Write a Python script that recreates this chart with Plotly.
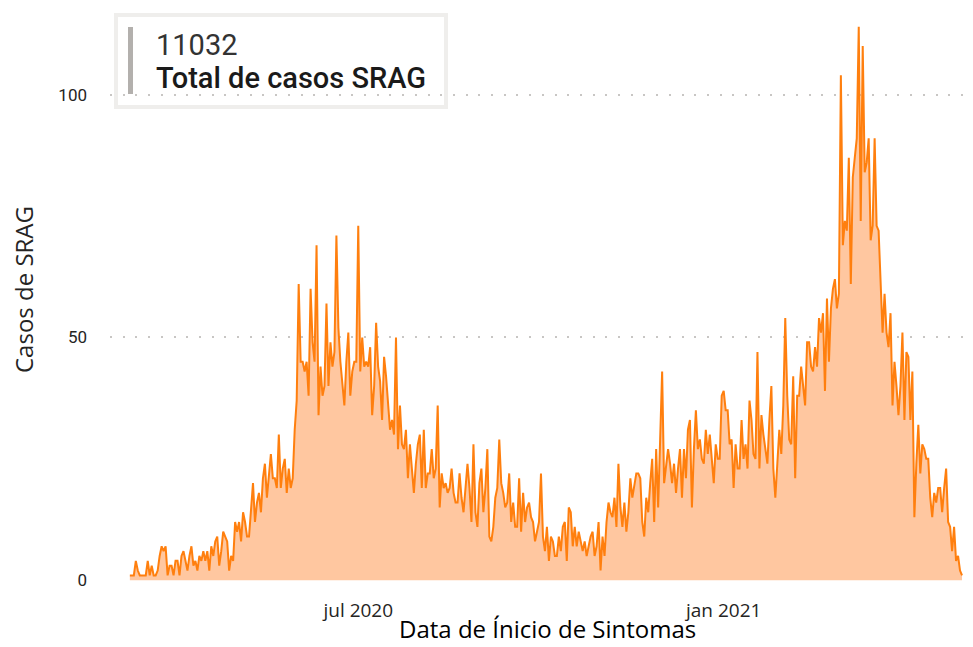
import pandas as pd
import plotly.graph_objects as go

start_date = "2020-03-08"

# daily SRAG cases, by period
cases_seg_a = [1, 1, 1, 4, 2, 1, 1, 1, 1, 4, 1,
               3, 1, 1, 2, 5, 7, 6, 7, 1, 3,
               3, 1, 4, 4, 1, 5, 6, 4, 2, 5,
               7, 3, 4, 2, 5, 4, 6, 4, 6, 2,
               7, 5, 8, 9, 3, 6, 10, 9, 8, 2,
               5, 4, 12, 10, 12, 8, 14, 12, 9, 9,
               14, 20, 12, 16, 18, 14, 21, 24, 17, 21,
               26, 21, 21, 19]
cases_seg_b = [30, 19, 23, 25, 18, 23, 19, 21, 31, 37,
               61, 45, 45, 43, 45, 38, 60, 49, 45, 69,
               34, 44, 38, 40, 57, 40, 49, 44, 47, 71,
               52, 45, 40, 36, 45, 51, 38, 43, 45, 45,
               73, 43, 50, 44, 45, 44, 48, 34, 40, 53,
               44, 41, 33, 46, 42, 36, 31, 33, 30, 50,
               27, 36, 28, 27, 31, 21, 28, 23, 18, 24,
               28, 30, 19, 31, 19, 22, 22]
cases_seg_c = [27, 21, 23, 36, 15, 22, 19, 20, 18, 19,
               23, 18, 16, 16, 22, 17, 14, 19, 24, 19,
               12, 28, 14, 11, 20, 23, 14, 19, 27, 9,
               8, 11, 17, 19, 29, 20, 18, 15, 16, 22,
               12, 16, 11, 11, 21, 10, 18, 12, 15, 16,
               13, 12, 8, 10, 12, 22, 9, 6, 11, 4,
               9, 8, 5, 5, 9, 6, 11, 12, 4, 15,
               14, 7, 11, 7, 10, 8, 6, 8]
cases_seg_d = [5, 7, 9, 10, 5, 7, 12, 2, 9, 5,
               12, 16, 14, 13, 17, 11, 24, 15, 11, 16,
               10, 14, 21, 17, 20, 22, 22, 21, 12, 9,
               17, 14, 20, 25, 12, 27, 15, 27, 43, 20,
               23, 27, 24, 20, 24, 18, 23, 27, 17, 27,
               21, 31, 33, 15, 27, 35, 27, 29, 25, 24,
               31, 26, 30, 25, 20, 28, 25, 25, 38, 39,
               35, 35, 28]
cases_seg_e = [29, 19, 28, 23, 23, 33, 25, 28, 23, 37,
               33, 26, 25, 47, 23, 34, 30, 27, 24, 33,
               40, 23, 17, 24, 31, 26, 36, 54, 38, 29,
               28, 42, 21, 38, 38, 44, 40, 36, 49, 49,
               44, 43, 48, 44, 54, 51, 55, 39, 58, 45,
               56, 60, 62, 56]
cases_seg_f = [59, 104, 69, 74, 72, 87, 61, 83, 87, 91,
               114, 74, 110, 84, 86, 91, 70, 73, 91, 73,
               72, 62]
cases_seg_g = [51, 59, 51, 48, 55, 36, 45, 40, 34, 40,
               51, 33, 47, 46, 33, 43, 13, 24, 32, 22,
               28, 27, 25, 25, 17, 13, 18, 16, 19, 19,
               14, 19, 23, 12, 11, 6, 11, 4, 5, 2, 1]

cases = (cases_seg_a + cases_seg_b + cases_seg_c + cases_seg_d +
         cases_seg_e + cases_seg_f + cases_seg_g)
dates = pd.date_range(start_date, periods=len(cases), freq="D")

total_label = "11032"
total_title = "Total de casos SRAG"
x_title = "Data de Ínicio de Sintomas"
y_title = "Casos de SRAG"
y_ticks = [0, 50, 100]
x_ticks = ["2020-07-01", "2021-01-01"]
x_ticklabels = ["jul 2020", "jan 2021"]

# the page body has an 8px margin; the figure is sized to fill the window
OFF = 8
W, H = 973 - OFF, 647 - OFF
ML, MR, MT, MB = 110 - OFF, 8, 15 - OFF, 66

fig = go.Figure()
fig.add_trace(go.Scatter(
    x=dates, y=cases, mode="lines",
    line=dict(color="#FF7F0E", width=2),
    fill="tozeroy", fillcolor="#FFC7A0",
    hoverinfo="x+y",
))

grid = dict(showgrid=True, gridcolor="#C8C6C4", gridwidth=1.5, griddash="2px,10.7px")

fig.update_layout(
    width=W, height=H,
    margin=dict(l=ML, r=MR, t=MT, b=MB),
    paper_bgcolor="white", plot_bgcolor="white",
    showlegend=False,
    xaxis=dict(
        range=["2020-02-27", "2021-05-02 12:00"],
        tickvals=x_ticks, ticktext=x_ticklabels,
        showgrid=False, zeroline=False, showline=False,
        tickfont=dict(family="Open Sans", size=19, color="#252423"),
        ticklabelstandoff=16,
    ),
    yaxis=dict(
        range=[-0.15, 116.4],
        tickvals=y_ticks,
        zeroline=False, showline=False,
        tickfont=dict(family="Roboto", size=17, color="#252423"),
        ticklabelstandoff=22,
        **grid,
    ),
)

pw = W - ML - MR
ph = H - MT - MB


def px(x):
    # screen x -> paper fraction
    return (x - OFF - ML) / pw


def py(y):
    # screen y -> paper fraction
    return (H - MB - (y - OFF)) / ph


# axis titles
fig.add_annotation(xref="paper", yref="paper", x=px(547), y=py(646),
                   xanchor="center", yanchor="bottom", showarrow=False,
                   text=x_title, borderpad=0,
                   font=dict(family="Open Sans", size=24, color="#000000"))
fig.add_annotation(xref="paper", yref="paper", x=px(23), y=py(290),
                   xanchor="center", yanchor="middle", showarrow=False,
                   textangle=-90, text=y_title,
                   font=dict(family="Open Sans", size=24, color="#252423"))

# card frame (transparent inside)
fig.add_shape(type="rect", xref="paper", yref="paper",
              x0=px(116), x1=px(446), y0=py(107), y1=py(15),
              line=dict(color="#EFEEEC", width=4), fillcolor="rgba(0,0,0,0)", layer="above")
fig.add_shape(type="rect", xref="paper", yref="paper",
              x0=px(128), x1=px(133), y0=py(94), y1=py(27),
              line=dict(width=0), fillcolor="#B3B0AD", layer="above")

fig.add_annotation(xref="paper", yref="paper", x=px(154), y=py(45),
                   xanchor="left", yanchor="middle", showarrow=False,
                   text=total_label,
                   font=dict(family="Roboto", size=29, color="#333333", weight=400))
fig.add_annotation(xref="paper", yref="paper", x=px(154), y=py(78),
                   xanchor="left", yanchor="middle", showarrow=False,
                   text=total_title,
                   font=dict(family="Roboto", size=29, color="#1a1a1a", weight=500))

fig.write_html("out.html")
